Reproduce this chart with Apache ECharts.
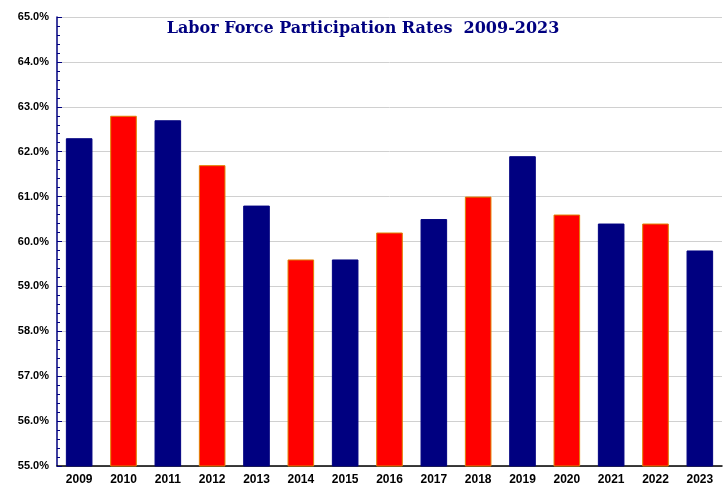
<!DOCTYPE html>
<html><head><meta charset="utf-8">
<script src="https://cdn.jsdelivr.net/npm/echarts@6/dist/echarts.min.js"></script>
<style>body{margin:0}#c{width:726px;height:489px}</style></head>
<body><div id="c"></div>
<script>
var years=['2009','2010','2011','2012','2013','2014','2015','2016','2017','2018','2019','2020','2021','2022','2023'];
var rates=[62.3,62.8,62.7,61.7,60.8,59.6,59.6,60.2,60.5,61.0,61.9,60.6,60.4,60.4,59.8];
var barColors=['#000080','#ff0000','#000080','#ff0000','#000080','#ff0000','#000080','#ff0000','#000080','#ff0000','#000080','#ff0000','#000080','#ff0000','#000080'];

var chart=echarts.init(document.getElementById('c'));
chart.setOption({
    title:{
        text:'Labor Force Participation Rates  2009-2023',
        left:'center',
        top:16,
        textStyle:{fontFamily:'DejaVu Serif',fontSize:16,fontWeight:'bold',color:'#000080'}
    },
    grid:{left:57,right:4,top:17,bottom:23},
    xAxis:{
        type:'category',
        data:years,
        axisLine:{lineStyle:{color:'#000',width:1.5}},
        axisTick:{show:false},
        axisLabel:{fontFamily:'Arial',fontWeight:'bold',fontSize:12,color:'#000',margin:8}
    },
    yAxis:{
        type:'value',min:55,max:65,interval:1,
        axisLine:{show:true,lineStyle:{color:'#000080',width:1.5}},
        axisTick:{show:true,inside:true,length:5,lineStyle:{color:'#000080'}},
        minorTick:{show:true,splitNumber:5,length:3,lineStyle:{color:'#000080'}},
        splitLine:{lineStyle:{color:'#d0d0d0'}},
        axisLabel:{formatter:function(v){return v.toFixed(1)+'%';},fontFamily:'Arial',fontWeight:'bold',fontSize:11,color:'#000'}
    },
    series:[{
        type:'bar',
        barWidth:'60%',
        data:rates.map(function(v,i){
            return {value:v,itemStyle:{color:barColors[i],borderColor:barColors[i]=='#ff0000'?'#e08000':'#000080',borderWidth:1}};
        })
    }]
});
</script></body></html>
